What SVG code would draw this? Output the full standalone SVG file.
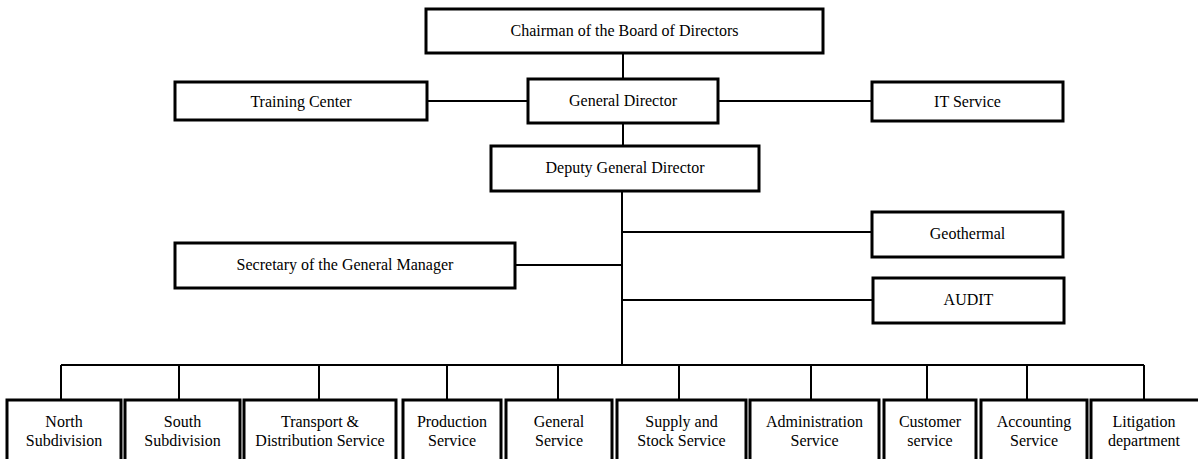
<svg xmlns="http://www.w3.org/2000/svg" width="1198" height="459" viewBox="0 0 1198 459">
  <style>
    .box { fill: #ffffff; stroke: #000000; stroke-width: 3; }
    .line { fill: none; stroke: #000000; stroke-width: 2; }
    .lbl { font-family: "Liberation Serif", "Times New Roman", serif; font-size: 16px; fill: #000000; text-anchor: middle; }
  </style>
  <rect width="1198" height="459" fill="#ffffff"/>

  <!-- connectors -->
  <g id="connectors">
    <path class="line" d="M623 53 V79"/>
    <path class="line" d="M623 123 V146"/>
    <path class="line" d="M427 101 H528"/>
    <path class="line" d="M718 101 H872"/>
    <path class="line" d="M622 191 V365"/>
    <path class="line" d="M622 232 H872"/>
    <path class="line" d="M515 265 H622"/>
    <path class="line" d="M622 300 H873"/>
    <path class="line" d="M61 365 H1144"/>
    <path class="line" d="M61 365 V400 M179 365 V400 M319 365 V400 M447 365 V400 M558 365 V400 M679 365 V400 M811 365 V400 M927 365 V400 M1027 365 V400 M1144 365 V400"/>
  </g>

  <!-- upper management -->
  <g id="chairman">
    <rect class="box" x="426" y="9" width="397" height="44"/>
    <text class="lbl" x="624.5" y="36">Chairman of the Board of Directors</text>
  </g>
  <g id="general-director">
    <rect class="box" x="528" y="79" width="190" height="44"/>
    <text class="lbl" x="623" y="106">General Director</text>
  </g>
  <g id="training-center">
    <rect class="box" x="175" y="82" width="252" height="38"/>
    <text class="lbl" x="301" y="107">Training Center</text>
  </g>
  <g id="it-service">
    <rect class="box" x="872" y="82" width="191" height="39"/>
    <text class="lbl" x="967.5" y="107">IT Service</text>
  </g>
  <g id="deputy-general-director">
    <rect class="box" x="491" y="146" width="268" height="45"/>
    <text class="lbl" x="625" y="173">Deputy General Director</text>
  </g>
  <g id="geothermal">
    <rect class="box" x="872" y="212" width="191" height="45"/>
    <text class="lbl" x="967.5" y="239">Geothermal</text>
  </g>
  <g id="secretary">
    <rect class="box" x="175" y="243" width="340" height="45"/>
    <text class="lbl" x="345" y="270">Secretary of the General Manager</text>
  </g>
  <g id="audit">
    <rect class="box" x="873" y="278" width="191" height="45"/>
    <text class="lbl" x="968.5" y="305">AUDIT</text>
  </g>

  <!-- departments -->
  <g id="north-subdivision">
    <rect class="box" x="7" y="400" width="114" height="70"/>
    <text class="lbl" x="64" y="427">North</text>
    <text class="lbl" x="64" y="446">Subdivision</text>
  </g>
  <g id="south-subdivision">
    <rect class="box" x="125" y="400" width="115" height="70"/>
    <text class="lbl" x="182.5" y="427">South</text>
    <text class="lbl" x="182.5" y="446">Subdivision</text>
  </g>
  <g id="transport-distribution">
    <rect class="box" x="244" y="400" width="152" height="70"/>
    <text class="lbl" x="320" y="427">Transport &amp;</text>
    <text class="lbl" x="320" y="446">Distribution Service</text>
  </g>
  <g id="production-service">
    <rect class="box" x="403" y="400" width="98" height="70"/>
    <text class="lbl" x="452" y="427">Production</text>
    <text class="lbl" x="452" y="446">Service</text>
  </g>
  <g id="general-service">
    <rect class="box" x="506" y="400" width="106" height="70"/>
    <text class="lbl" x="559" y="427">General</text>
    <text class="lbl" x="559" y="446">Service</text>
  </g>
  <g id="supply-stock">
    <rect class="box" x="617" y="400" width="129" height="70"/>
    <text class="lbl" x="681.5" y="427">Supply and</text>
    <text class="lbl" x="681.5" y="446">Stock Service</text>
  </g>
  <g id="administration-service">
    <rect class="box" x="750" y="400" width="129" height="70"/>
    <text class="lbl" x="814.5" y="427">Administration</text>
    <text class="lbl" x="814.5" y="446">Service</text>
  </g>
  <g id="customer-service">
    <rect class="box" x="884" y="400" width="92" height="70"/>
    <text class="lbl" x="930" y="427">Customer</text>
    <text class="lbl" x="930" y="446">service</text>
  </g>
  <g id="accounting-service">
    <rect class="box" x="981" y="400" width="106" height="70"/>
    <text class="lbl" x="1034" y="427">Accounting</text>
    <text class="lbl" x="1034" y="446">Service</text>
  </g>
  <g id="litigation-department">
    <rect class="box" x="1091" y="400" width="110" height="70"/>
    <text class="lbl" x="1144" y="427">Litigation</text>
    <text class="lbl" x="1144" y="446">department</text>
  </g>
</svg>
